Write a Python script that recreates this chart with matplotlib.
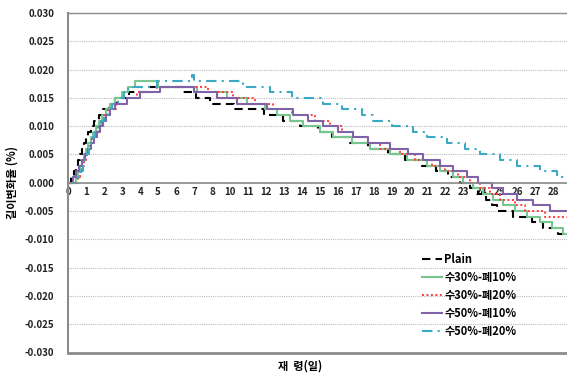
import matplotlib
matplotlib.use("Agg")
import matplotlib.pyplot as plt
from matplotlib.ticker import FormatStrFormatter

plt.rcParams['font.family'] = ['Noto Sans CJK KR', 'DejaVu Sans']
plt.rcParams['axes.unicode_minus'] = False

# x positions are in category-axis units (tick index), y in %
x_labels = ['0', '1', '2', '3', '4', '5', '6', '7', '8', '10', '11', '12', '13', '14',
            '15', '16', '17', '18', '19', '20', '21', '22', '23', '24', '25', '26', '27', '28']
x_end = 27.76

plain_x = [0, 0.15, 0.32, 0.43, 0.54, 0.65, 0.76, 0.87, 0.99, 1.10, 1.26, 1.45, 1.70, 1.95,
           2.25, 2.70, 3.40, 4.44, 6.39, 7.09, 7.89, 9.23, 10.90, 11.95, 12.90, 13.90, 14.68,
           15.68, 16.69, 17.80, 18.75, 19.69, 20.47, 21.14, 21.81, 22.37, 22.81, 23.26, 23.59,
           23.87, 24.76, 25.82, 26.43, 27.26]
plain_y = [0.000, 0.001, 0.002, 0.003, 0.004, 0.005, 0.006, 0.007, 0.008, 0.009, 0.010, 0.011,
           0.012, 0.013, 0.014, 0.015, 0.016, 0.017, 0.016, 0.015, 0.014, 0.013, 0.012, 0.011,
           0.010, 0.009, 0.008, 0.007, 0.006, 0.005, 0.004, 0.003, 0.002, 0.001, 0.000, -0.001,
           -0.002, -0.003, -0.004, -0.005, -0.006, -0.007, -0.008, -0.009]

g1_x = [0, 0.43, 0.54, 0.65, 0.76, 0.87, 0.99, 1.10, 1.26, 1.38, 1.54, 1.71, 1.88, 2.10, 2.32,
        2.60, 2.99, 3.32, 3.71, 4.99, 7.17, 8.84, 9.95, 10.95, 11.62, 12.34, 13.07, 14.01, 14.74,
        15.79, 16.80, 17.91, 18.86, 19.97, 20.70, 21.42, 21.98, 22.53, 23.09, 23.65, 24.21,
        24.87, 25.54, 26.26, 26.93, 27.54]
g1_y = [0.000, 0.001, 0.002, 0.003, 0.004, 0.005, 0.006, 0.007, 0.008, 0.009, 0.010, 0.011,
        0.012, 0.013, 0.014, 0.015, 0.016, 0.017, 0.018, 0.017, 0.016, 0.015, 0.014, 0.013,
        0.012, 0.011, 0.010, 0.009, 0.008, 0.007, 0.006, 0.005, 0.004, 0.003, 0.002, 0.001,
        0.000, -0.001, -0.002, -0.003, -0.004, -0.005, -0.006, -0.007, -0.008, -0.009]

r1_x = [0, 0.54, 0.65, 0.76, 0.87, 0.99, 1.10, 1.21, 1.32, 1.49, 1.65, 1.82, 1.99, 2.21, 2.66,
        3.27, 3.83, 4.94, 7.78, 9.17, 10.39, 11.40, 12.45, 13.73, 14.57, 15.24, 15.85, 16.69,
        17.36, 18.47, 19.30, 20.25, 20.97, 21.70, 22.37, 22.92, 23.48, 24.04, 24.87, 25.43,
        26.54]
r1_y = [0.000, 0.001, 0.002, 0.003, 0.004, 0.005, 0.006, 0.007, 0.008, 0.009, 0.010, 0.011,
        0.012, 0.013, 0.014, 0.015, 0.016, 0.017, 0.016, 0.015, 0.014, 0.013, 0.012, 0.011,
        0.010, 0.009, 0.008, 0.007, 0.006, 0.005, 0.004, 0.003, 0.002, 0.001, 0.000, -0.001,
        -0.002, -0.003, -0.004, -0.005, -0.006]

p1_x = [0, 0.26, 0.43, 0.60, 0.76, 0.93, 1.10, 1.26, 1.43, 1.60, 1.77, 1.93, 2.10, 2.32, 2.60,
        3.27, 3.99, 5.10, 6.98, 8.28, 9.39, 11.06, 12.51, 13.34, 14.18, 15.02, 15.85, 16.69,
        17.91, 18.91, 19.75, 20.70, 21.42, 22.20, 22.81, 23.59, 24.21, 24.98, 25.87, 26.82]
p1_y = [0.000, 0.001, 0.002, 0.003, 0.004, 0.005, 0.006, 0.007, 0.008, 0.009, 0.010, 0.011,
        0.012, 0.013, 0.014, 0.015, 0.016, 0.017, 0.016, 0.015, 0.014, 0.013, 0.012, 0.011,
        0.010, 0.009, 0.008, 0.007, 0.006, 0.005, 0.004, 0.003, 0.002, 0.001, 0.000, -0.001,
        -0.002, -0.003, -0.004, -0.005]

c1_x = [0, 0.60, 0.71, 0.82, 0.93, 1.04, 1.15, 1.26, 1.38, 1.49, 1.65, 1.82, 1.99, 2.21, 2.43,
        2.77, 3.10, 3.32, 4.94, 6.87, 6.98, 9.73, 11.23, 12.45, 14.18, 15.24, 16.35, 16.97,
        18.02, 19.19, 19.97, 21.08, 22.09, 22.92, 24.04, 24.98, 26.26, 27.21]
c1_y = [0.000, 0.001, 0.002, 0.003, 0.004, 0.005, 0.006, 0.007, 0.008, 0.009, 0.010, 0.011,
        0.012, 0.013, 0.014, 0.015, 0.016, 0.017, 0.018, 0.019, 0.018, 0.017, 0.016, 0.015,
        0.014, 0.013, 0.012, 0.011, 0.010, 0.009, 0.008, 0.007, 0.006, 0.005, 0.004, 0.003,
        0.002, 0.001]

series = [
    ("Plain", plain_x, plain_y, "#000000", (0, (4, 2.5)), 1.5),
    ("수30%-폐10%", g1_x, g1_y, "#77C68D", "-", 1.5),
    ("수30%-폐20%", r1_x, r1_y, "#FF3B3B", (0, (1, 1.3)), 1.4),
    ("수50%-폐10%", p1_x, p1_y, "#7F62A8", "-", 1.5),
    ("수50%-폐20%", c1_x, c1_y, "#3BA8C4", (0, (5, 2.5, 1, 2.5)), 1.5),
]

fig = plt.figure(figsize=(5.67, 3.75), dpi=100)
ax = fig.add_axes([0.1205, 0.06, 0.8795, 0.9053])

for name, xs, ys, col, ls, lw in series:
    ax.step(xs + [x_end], ys + [ys[-1]], where="post", color=col, linestyle=ls,
            linewidth=lw, label=name)

ax.set_xlim(0, x_end)
ax.set_ylim(-0.030, 0.030)
ax.set_yticks([i * 0.005 for i in range(-6, 7)])
ax.yaxis.set_major_formatter(FormatStrFormatter('%.3f'))
ax.set_xticks(range(len(x_labels)))
ax.set_xticklabels(x_labels)

ax.grid(axis="y", color="#BBBBBB", linestyle=(0, (1, 1)), linewidth=0.8)
ax.set_axisbelow(True)

gray = "#8C8C8C"
ax.spines["right"].set_visible(False)
ax.spines["top"].set_color(gray)
ax.spines["top"].set_linewidth(1.0)
ax.spines["left"].set_color(gray)
ax.spines["left"].set_linewidth(1.5)
ax.spines["bottom"].set_position(("data", 0))
ax.spines["bottom"].set_color(gray)
ax.spines["bottom"].set_linewidth(1.2)
ax.axhline(-0.030, color=gray, linewidth=2.0, clip_on=False)

ax.tick_params(axis="x", length=0, pad=3, labelsize=7)
ax.tick_params(axis="y", length=0, pad=10, labelsize=7)
for lab in ax.get_xticklabels() + ax.get_yticklabels():
    lab.set_fontweight("bold")
    lab.set_color("#222222")

fig.text(12 / 567, 1 - 182 / 375, "길이변화율 (%)", rotation=90, ha="center",
         va="center", fontsize=8, fontweight="bold")
fig.text(300 / 567, 1 - 366 / 375, "재  령(일)", ha="center", va="center",
         fontsize=8, fontweight="bold")

leg = ax.legend(loc="upper left", bbox_to_anchor=(0.69, 0.323), frameon=False,
                handlelength=1.8, handletextpad=0.15, labelspacing=0.45,
                prop={"weight": "bold", "size": 8})

fig.savefig("out.png", dpi=100)
